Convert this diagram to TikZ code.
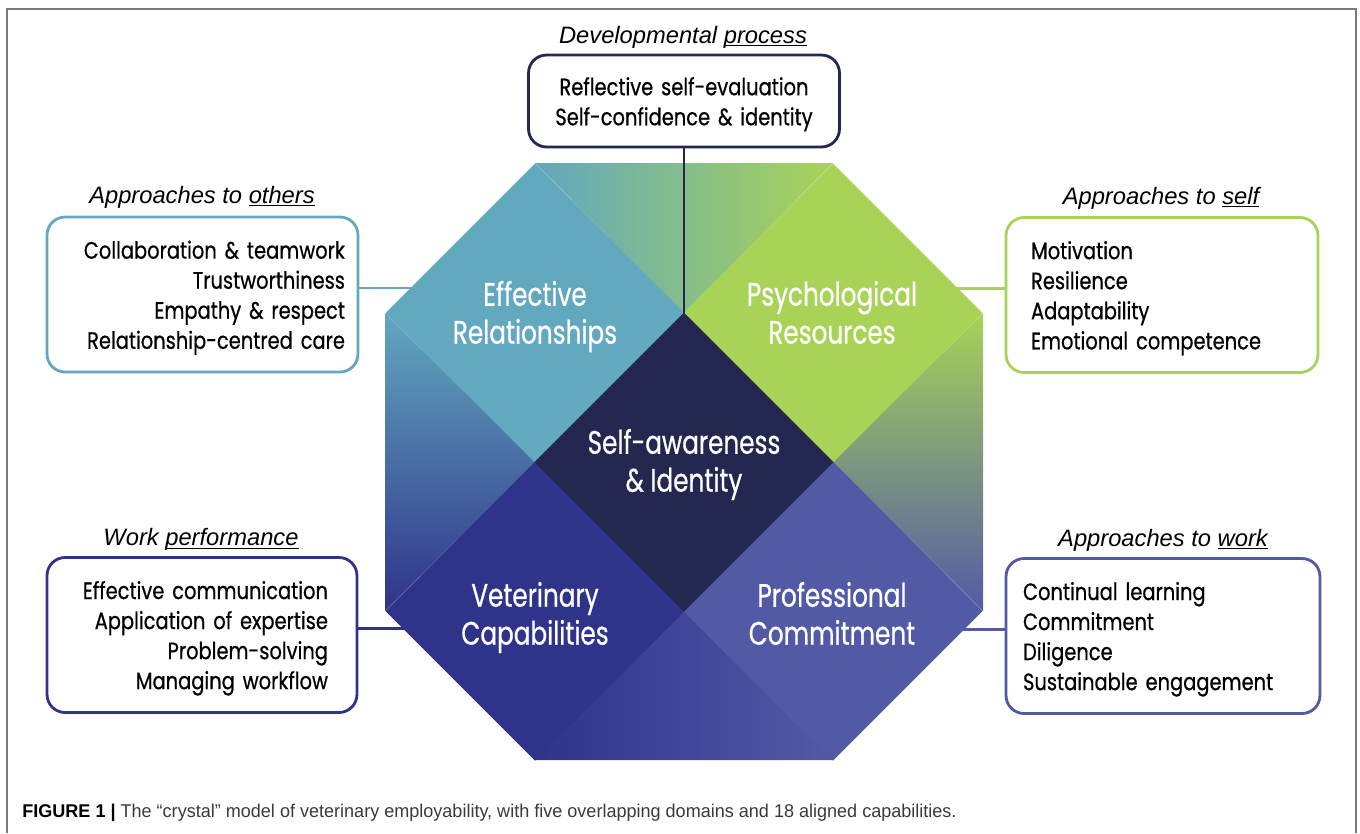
\documentclass[tikz,border=0pt]{standalone}
\usepackage{fontspec}
\setmainfont{Liberation Sans}
\newfontfamily\crystalfont[FakeStretch=0.82, FakeBold=0.6]{Poppins}
\newfontfamily\domainfont[FakeStretch=0.76, FakeBold=0.6]{Poppins}
\newfontfamily\captionfont[FakeStretch=0.978]{Liberation Sans}
\usetikzlibrary{positioning}

\definecolor{erteal}{HTML}{62A8BF}
\definecolor{prgreen}{HTML}{A9D356}
\definecolor{vcblue}{HTML}{2F338A}
\definecolor{pcblue}{HTML}{525AA6}
\definecolor{sinavy}{HTML}{24274F}
\definecolor{framegray}{HTML}{7A7A7A}
\definecolor{captext}{HTML}{3A3A3A}

\newcommand{\headul}[1]{\underline{\smash{#1}}}

\tikzset{
  domainlabel/.style={text=white, align=center, inner sep=0pt,
    font=\domainfont\fontsize{18.5}{21.6}\selectfont,
    execute at begin node=\strut, execute at end node=\strut},
  capbox/.style={draw, rounded corners=0.36cm, line width=1.6pt, fill=white,
    minimum height=3.1cm, inner ysep=0pt, text=black,
    font=\crystalfont\fontsize{13.5}{17.1}\selectfont,
    execute at begin node={\rule{0pt}{14pt}}},
  capline/.style={line width=1.4pt},
  heading/.style={inner sep=0pt, font=\fontsize{13.5}{16}\selectfont\itshape},
}

\begin{document}
\begin{tikzpicture}[x=0.02cm, y=-0.02cm]
  % One unit is one pixel of the 1360 x 833 figure (y grows downwards)
  \def\s{149.5}
  \useasboundingbox (0,0) rectangle (1360,833);

  % Figure frame, open at the bottom
  \draw[framegray, line width=1.2pt] (7,833) -- (7,9) -- (1356,9) -- (1356,833);

  % Capability boxes
  \node[capbox, draw=sinavy, minimum height=1.84cm, text width=5.7cm,
        inner xsep=0.26cm, align=center] (dev) at (684,101)
    {Reflective self-evaluation\\Self-confidence \& identity};
  \node[capbox, draw=erteal, text width=5.7cm, inner xsep=0.26cm, align=right]
    (others) at (202.5,294.5)
    {Collaboration \& teamwork\\Trustworthiness\\Empathy \& respect\\Relationship-centred care};
  \node[capbox, draw=prgreen, text width=5.24cm, inner xsep=0.5cm, align=left]
    (self) at (1162,295)
    {Motivation\\Resilience\\Adaptability\\Emotional competence};
  \node[capbox, draw=vcblue, text width=5.04cm, inner xsep=0.58cm, align=right]
    (perf) at (202,635)
    {Effective communication\\Application of expertise\\Problem-solving\\Managing workflow};
  \node[capbox, draw=pcblue, text width=5.6cm, inner xsep=0.34cm, align=left]
    (work) at (1163,636)
    {Continual learning\\Commitment\\Diligence\\Sustainable engagement};

  % Box headings
  \node[heading] (devhead) at (683,37) {Developmental \headul{process}};
  \node[heading] (othershead) at (202,197) {Approaches to \headul{others}};
  \node[heading] (selfhead) at (1161,198) {Approaches to \headul{self}};
  \node[heading] (perfhead) at (201,539) {Work \headul{performance}};
  \node[heading] (workhead) at (1163,540) {Approaches to \headul{work}};

  % Domain centres
  \coordinate (er) at (535,313);
  \coordinate (pr) at (833,313);
  \coordinate (vc) at (535,611);
  \coordinate (pc) at (833,611);
  \coordinate (si) at (684,462);
  \coordinate (sitop) at (684,313);

  % Side links, hidden under the crystal
  \draw[capline, erteal] ([yshift=0.13cm]others.east) -- ([yshift=0.13cm]others.east -| er);
  \draw[capline, prgreen] ([yshift=0.13cm]self.west) -- ([yshift=0.13cm]self.west -| pr);
  \draw[capline, vcblue] ([yshift=0.13cm]perf.east) -- ([yshift=0.13cm]perf.east -| vc);
  \draw[capline, pcblue] ([yshift=0.13cm]work.west) -- ([yshift=0.13cm]work.west -| pc);

  % Blended triangles between the domains
  \shade[left color=erteal, right color=prgreen] (535,163) -- (833,163) -- (684,313) -- cycle;
  \shade[top color=erteal, bottom color=vcblue] (385,313) -- (535,462) -- (385,611) -- cycle;
  \shade[top color=prgreen, bottom color=pcblue] (983,313) -- (833,462) -- (983,611) -- cycle;
  \shade[left color=vcblue, right color=pcblue] (535,760) -- (833,760) -- (684,611) -- cycle;

  % Domain diamonds
  \foreach \c/\col in {er/erteal, pr/prgreen, vc/vcblue, pc/pcblue, si/sinavy}
    \fill[\col] ([xshift=-\s*0.02cm]\c) -- ([yshift=\s*0.02cm]\c)
      -- ([xshift=\s*0.02cm]\c) -- ([yshift=-\s*0.02cm]\c) -- cycle;

  % Link from the developmental box into the core
  \draw[capline, sinavy] (dev.south) -- (sitop);

  % Domain labels
  \node[domainlabel] (erlabel) at (535,318) {Effective\\Relationships};
  \node[domainlabel] (prlabel) at (832,318) {Psychological\\Resources};
  \node[domainlabel] (silabel) at (684,466) {Self-awareness\\\& Identity};
  \node[domainlabel] (vclabel) at (535,619) {Veterinary\\Capabilities};
  \node[domainlabel] (pclabel) at (832,619) {Professional\\Commitment};

  % Caption
  \node[anchor=west, inner sep=0pt, text=captext, font=\captionfont\fontsize{10.5}{12}\selectfont]
    (caption) at (22,813)
    {\textbf{\color{black}FIGURE 1 |} The “crystal” model of veterinary employability, with five overlapping domains and 18 aligned capabilities.};
\end{tikzpicture}
\end{document}
